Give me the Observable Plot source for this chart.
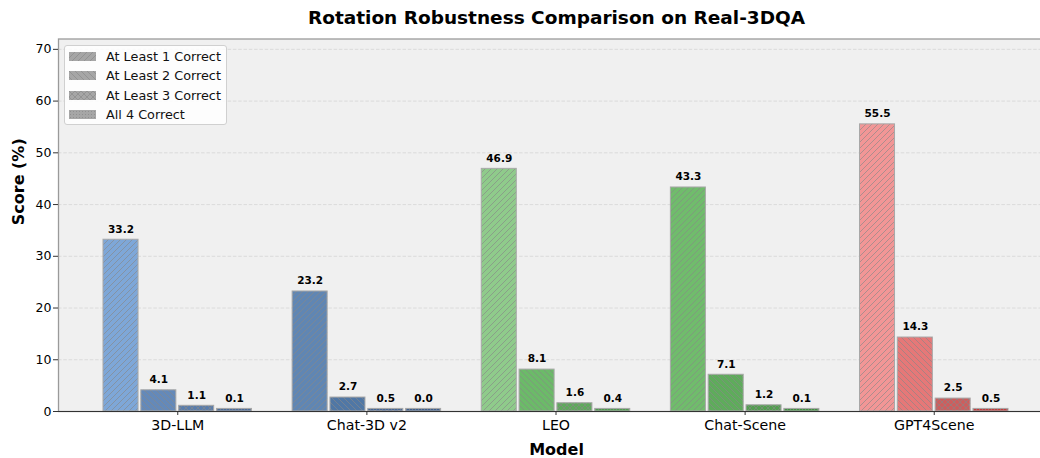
<!DOCTYPE html>
<html><head><meta charset="utf-8">
<script src="https://cdn.jsdelivr.net/npm/d3@7"></script>
<script src="https://cdn.jsdelivr.net/npm/@observablehq/plot@0.6"></script>
<style>
html,body{margin:0;padding:0;background:#fff;overflow:hidden;}
#wrap{position:relative;width:1056px;height:458px;font-family:"DejaVu Sans",sans-serif;}
#wrap svg{max-width:none !important;display:block;}
#legend{position:absolute;left:64px;top:45px;width:163px;height:80px;box-sizing:border-box;background:rgba(255,255,255,0.85);border:1px solid #d0d0d0;border-radius:3px;}
.row{position:absolute;left:4px;height:9px;display:flex;align-items:center;font-size:12.8px;color:#111;white-space:nowrap;}
.row svg{margin-right:10px;flex:none}
</style></head>
<body>
<svg width="0" height="0" style="position:absolute">
 <defs>
  <pattern id="h0" patternUnits="userSpaceOnUse" width="6" height="6">
   <path d="M-1.5,1.5 L1.5,-1.5 M0,6 L6,0 M4.5,7.5 L7.5,4.5" stroke="#888" stroke-width="0.75" stroke-opacity="0.85" fill="none"/>
  </pattern>
  <pattern id="h1" patternUnits="userSpaceOnUse" width="6" height="6">
   <path d="M-1.5,4.5 L1.5,7.5 M0,0 L6,6 M4.5,-1.5 L7.5,1.5" stroke="#888" stroke-width="0.75" stroke-opacity="0.85" fill="none"/>
  </pattern>
  <pattern id="h2" patternUnits="userSpaceOnUse" width="6" height="6">
   <path d="M-1.5,1.5 L1.5,-1.5 M0,6 L6,0 M4.5,7.5 L7.5,4.5 M-1.5,4.5 L1.5,7.5 M0,0 L6,6 M4.5,-1.5 L7.5,1.5" stroke="#888" stroke-width="0.75" stroke-opacity="0.85" fill="none"/>
  </pattern>
  <pattern id="h3" patternUnits="userSpaceOnUse" width="3" height="3">
   <circle cx="1.5" cy="1.5" r="0.55" fill="#888" fill-opacity="0.85"/>
  </pattern>
 </defs>
</svg>
<div id="wrap"></div>
<script>
// ---- data ----
const models = ["3D-LLM", "Chat-3D v2", "LEO", "Chat-Scene", "GPT4Scene"];
const metrics = ["At Least 1 Correct", "At Least 2 Correct", "At Least 3 Correct", "All 4 Correct"];
const atLeast1 = [33.2, 23.2, 46.9, 43.3, 55.5];
const atLeast2 = [4.1, 2.7, 8.1, 7.1, 14.3];
const atLeast3 = [1.1, 0.5, 1.6, 1.2, 2.5];
const all4 = [0.1, 0.0, 0.4, 0.1, 0.5];
const yTicks = [0, 10, 20, 30, 40, 50, 60, 70];
const titleText = "Rotation Robustness Comparison on Real-3DQA";

// ---- style ----
const palette = [
  ["#7ea7d8", "#6489b9", "#5a7dac", "#4b6e9f"],
  ["#6086b3", "#5077a5", "#46699a", "#3d6192"],
  ["#8fcb8b", "#6cba69", "#5fa95d", "#4fa04e"],
  ["#70bc6c", "#5fab5c", "#529f50", "#409541"],
  ["#f29696", "#e67878", "#cc5e5e", "#c93a3a"]
];
const minShown = 0.5;
const W = 1056, H = 458;
const mL = 58, mR = 2, mT = 38.5, mB = 47;
const insetL = 45, insetR = 46;
const padInner = 0.074;

const slots = [];
models.forEach((m, i) => {
  metrics.forEach(k => slots.push(m + "|" + k));
  if (i < models.length - 1) slots.push("gap" + i);
});
const xStep = (W - mL - mR - insetL - insetR) / (slots.length - padInner);

const series = [atLeast1, atLeast2, atLeast3, all4];
const rows = [];
models.forEach((m, i) => series.forEach((s, j) => rows.push({
  model: m, metric: metrics[j], j, slot: m + "|" + metrics[j],
  value: s[i], shown: Math.max(s[i], minShown), color: palette[i][j]
})));
const centerSlots = models.map(m => m + "|" + metrics[1]);

const plot = Plot.plot({
  width: W, height: H,
  marginLeft: mL, marginRight: mR, marginTop: mT, marginBottom: mB,
  style: {fontFamily: "DejaVu Sans", background: "transparent", color: "#000", maxWidth: "none"},
  x: {type: "band", domain: slots, paddingInner: padInner, paddingOuter: 0, insetLeft: insetL, insetRight: insetR, round: false},
  y: {domain: [0, 72]},
  color: {type: "identity"},
  marks: [
    Plot.frame({fill: "#f0f0f0", stroke: "none"}),
    Plot.ruleY(yTicks.filter(t => t > 0), {stroke: "#d6d6d6", strokeDasharray: "3.5,1.8", strokeWidth: 0.8}),
    Plot.barY(rows, {x: "slot", y: "shown", fill: "color", stroke: "none"}),
    ...metrics.map((k, j) => Plot.barY(rows.filter(d => d.j === j), {x: "slot", y: "shown", fill: `url(#h${j})`, stroke: "#a8a8a8", strokeWidth: 1})),
    Plot.text(rows, {x: "slot", y: "shown", text: d => d.value.toFixed(1), dy: -10.5, fontWeight: "bold", fontSize: 10.5, fill: "#000"}),
    Plot.frame({stroke: "#9a9a9a", strokeWidth: 1.3, fill: "none"}),
    Plot.ruleY([0], {stroke: "#333", strokeWidth: 1.2}),
    Plot.axisY({ticks: yTicks, tickSize: 5, tickPadding: 2, fontSize: 12.5, label: null, stroke: "#333"}),
    Plot.axisX({ticks: centerSlots, tickFormat: s => s.split("|")[0], dx: xStep / 2, tickSize: 4, tickPadding: 4, fontSize: 14.2, label: null, stroke: "#333"}),
    Plot.text([titleText], {frameAnchor: "top", lineAnchor: "middle", dy: -20.5, fontWeight: "bold", fontSize: 18.5, fill: "#000"}),
    Plot.text(["Model"], {frameAnchor: "bottom", lineAnchor: "middle", dy: 38, fontWeight: "bold", fontSize: 16, fill: "#000"}),
    Plot.text(["Score (%)"], {frameAnchor: "left", dx: -40, rotate: -90, fontWeight: "bold", fontSize: 16, fill: "#000"})
  ]
});
const wrap = document.getElementById("wrap");
wrap.appendChild(plot);

// legend
const legend = document.createElement("div");
legend.id = "legend";
metrics.forEach((k, j) => {
  const row = document.createElement("div");
  row.className = "row";
  row.style.top = (5.5 + j * 19.5) + "px";
  row.innerHTML = `<svg width="27" height="9"><rect width="27" height="9" fill="#a6a6a6"/><rect width="27" height="9" fill="url(#h${j})"/></svg><span>${k}</span>`;
  legend.appendChild(row);
});
wrap.appendChild(legend);
</script>
</body></html>
